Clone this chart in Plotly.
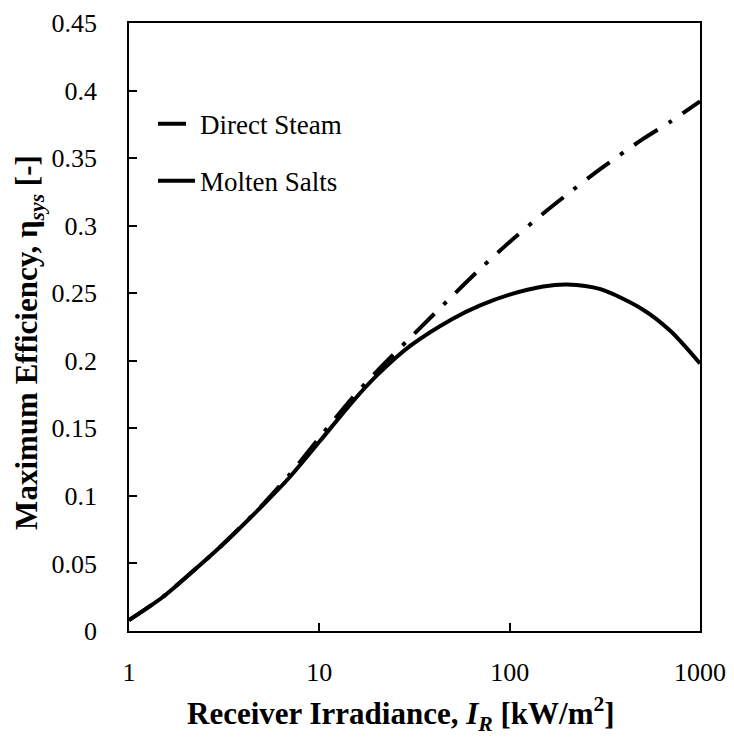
import plotly.graph_objects as go

# values
irradiance = [1, 1.5, 2, 3, 5, 7, 10, 15, 20, 30, 50, 70, 100, 150, 200, 300, 500, 700, 1000]
direct_steam = [0.008, 0.025, 0.040, 0.062, 0.093, 0.116, 0.143, 0.173, 0.192, 0.217, 0.248, 0.268, 0.288,
                0.309, 0.323, 0.342, 0.364, 0.377, 0.392]
molten_salts = [0.008, 0.025, 0.040, 0.062, 0.0925, 0.114, 0.140, 0.170, 0.189, 0.211, 0.231, 0.241, 0.249,
                0.255, 0.2565, 0.253, 0.238, 0.222, 0.198]

x_ticks = [1, 10, 100, 1000]
y_ticks = [0, 0.05, 0.1, 0.15, 0.2, 0.25, 0.3, 0.35, 0.4, 0.45]
y_labels = ['0', '0.05', '0.1', '0.15', '0.2', '0.25', '0.3', '0.35', '0.4', '0.45']

x_title = '<b>Receiver Irradiance, <i>I</i><sub><i>R</i></sub> [kW/m<sup>2</sup>]</b>'
y_title = '<b>Maximum Efficiency, η<sub><i>sys</i></sub> [-]</b>'

serif = 'Liberation Serif, Times New Roman, serif'

fig = go.Figure()
fig.add_trace(go.Scatter(x=irradiance, y=direct_steam, mode='lines', name='Direct Steam',
                         legendgroup='a',
                         line=dict(color='black', width=4, dash='28px,13px,4px,13px',
                                   shape='spline', smoothing=0.8)))
fig.add_trace(go.Scatter(x=irradiance, y=molten_salts, mode='lines', name='Molten Salts',
                         legendgroup='b',
                         line=dict(color='black', width=4, shape='spline', smoothing=0.8)))

fig.update_layout(
    width=726, height=730,
    margin=dict(l=121, r=34, t=15, b=107),
    plot_bgcolor='white', paper_bgcolor='white',
    font=dict(family=serif, size=26, color='black'),
    legend=dict(x=0.042, y=0.874, xanchor='left', yanchor='top', bgcolor='rgba(0,0,0,0)',
                font=dict(size=27), tracegroupgap=19, itemwidth=37),
    showlegend=True,
)
# axis titles placed as annotations so they sit where the reference has them
fig.add_annotation(text=x_title, xref='paper', yref='paper', x=0.476, y=-0.137,
                   xanchor='center', yanchor='middle', showarrow=False, font=dict(size=31))
fig.add_annotation(text=y_title, xref='paper', yref='paper', x=-0.175, y=0.474,
                   xanchor='center', yanchor='middle', showarrow=False, textangle=-90,
                   font=dict(size=31))

fig.update_xaxes(type='log', range=[0, 3], tickvals=x_ticks, ticktext=[str(v) for v in x_ticks],
                 ticks='inside', ticklen=8, tickwidth=1.5, tickcolor='black',
                 showline=True, linecolor='black', linewidth=1.5, mirror=True,
                 showgrid=False, zeroline=False, automargin=False, ticklabeloverflow='allow',
                 tickfont=dict(size=26), ticklabelstandoff=17)
fig.update_yaxes(range=[0, 0.45], tickvals=y_ticks, ticktext=y_labels,
                 ticks='inside', ticklen=8, tickwidth=1.5, tickcolor='black',
                 showline=True, linecolor='black', linewidth=1.5, mirror=True,
                 showgrid=False, zeroline=False, automargin=False, ticklabeloverflow='allow',
                 tickfont=dict(size=26), ticklabelstandoff=25)

fig.write_html("out.html")
